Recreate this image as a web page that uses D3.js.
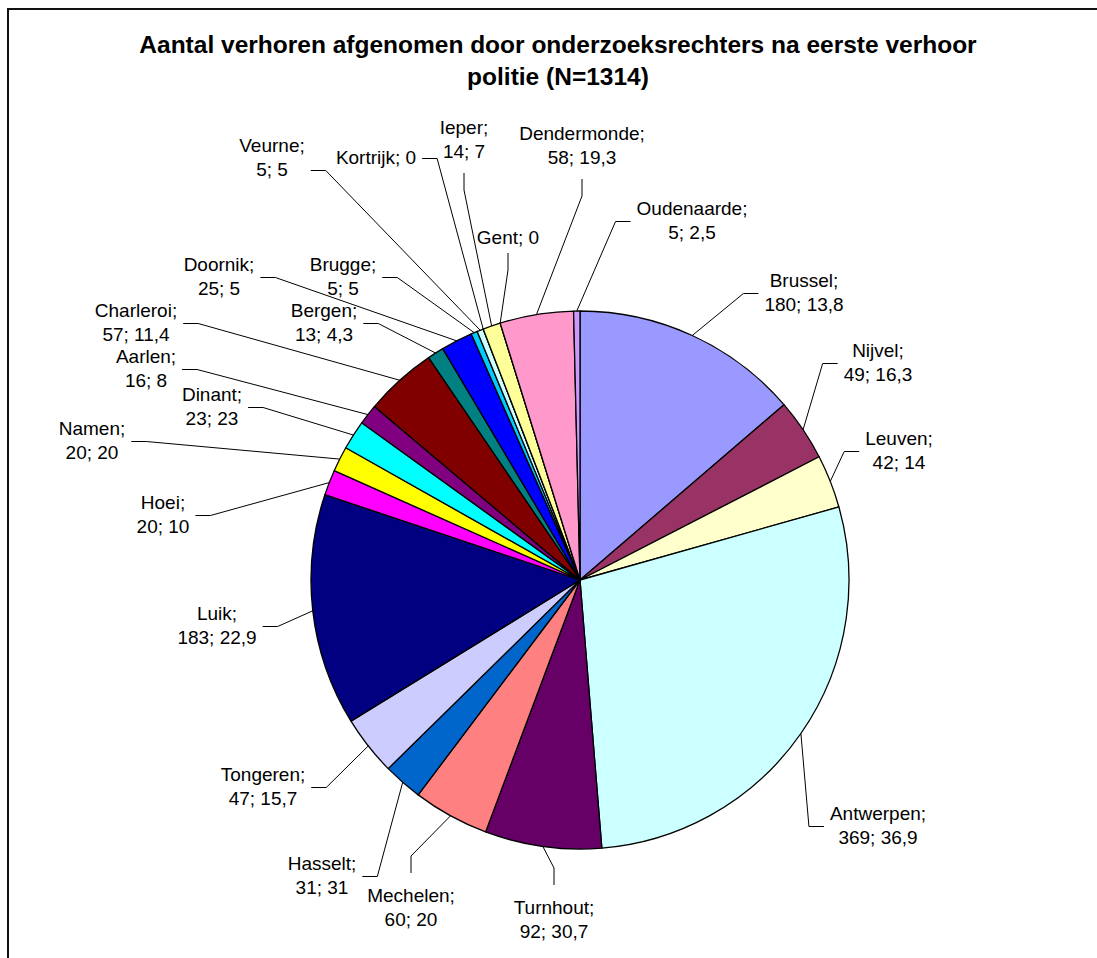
<!DOCTYPE html>
<html>
<head>
<meta charset="utf-8">
<script src="https://cdn.jsdelivr.net/npm/d3@7"></script>
<style>
	body { margin: 0; background: #fff; }
	text { font-family: "Liberation Sans", Arial, sans-serif; fill: #000; }
</style>
</head>
<body>
<svg id="chart" width="1097" height="958"></svg>
<script>
// slices in clockwise order starting at 12 o'clock
const districts = ['Brussel', 'Nijvel', 'Leuven', 'Antwerpen', 'Turnhout', 'Mechelen', 'Hasselt', 'Tongeren', 'Luik', 'Hoei', 'Namen', 'Dinant', 'Aarlen', 'Charleroi', 'Bergen', 'Doornik', 'Brugge', 'Veurne', 'Kortrijk', 'Ieper', 'Gent', 'Dendermonde', 'Oudenaarde'];
const counts = [180, 49, 42, 369, 92, 60, 31, 47, 183, 20, 20, 23, 16, 57, 13, 25, 5, 5, 0, 14, 0, 58, 5];
const ratios = [13.8, 16.3, 14, 36.9, 30.7, 20, 31, 15.7, 22.9, 10, 20, 23, 8, 11.4, 4.3, 5, 5, 5, null, 7, null, 19.3, 2.5];
const colors = ['#9999FF', '#993366', '#FFFFCC', '#CCFFFF', '#660066', '#FF8080', '#0066CC', '#CCCCFF', '#000080', '#FF00FF', '#FFFF00', '#00FFFF', '#800080', '#800000', '#008080', '#0000FF', '#00CCFF', '#CCFFFF', '#CCFFCC', '#FFFF99', '#99CCFF', '#FF99CC', '#CC99FF'];
const titleLines = ['Aantal verhoren afgenomen door onderzoeksrechters na eerste verhoor', 'politie (N=1314)'];

// label placement (offset of label centre from pie centre, side where the leader leaves)
const labelSpots = [
	[224, -288, 'l'], [298, -218, 'l'], [319, -130, 'l'], [298, 245, 'l'],
	[-26, 339, 't'], [-169, 327, 't'], [-258, 295, 'r'], [-317, 206, 'r'],
	[-363, 45, 'r'], [-417, -66, 'r'], [-488, -140, 'r'], [-368, -174, 'r'],
	[-434, -212, 'r'], [-444, -258, 'r'], [-256, -258, 'r'], [-361, -304, 'r'],
	[-237, -304, 'r'], [-308, -423, 'r', 12], [-204, -423, 'r'], [-116, -441, 'b'],
	[-72, -343, 'b'], [2, -435, 'b'], [112, -360, 'l']
];

let cx = 580, cy = 580, radius = 269;
let svg = d3.select('#chart');

// chart frame (runs off the right and bottom edge)
svg.append('rect').attr('x', 8).attr('y', 9).attr('width', 1200).attr('height', 1200)
	.style('fill', 'none').style('stroke', '#111').style('stroke-width', 2);

svg.selectAll('text.title').data(titleLines).join('text')
	.attr('class', 'title')
	.attr('x', 558)
	.attr('y', (d, i) => 53 + i * 32)
	.attr('text-anchor', 'middle')
	.style('font-size', '24.5px')
	.style('font-weight', 'bold')
	.text(d => d);

let slices = districts.map((name, i) => ({name: name, count: counts[i], ratio: ratios[i], color: colors[i], spot: labelSpots[i]}));
let pie = d3.pie().sort(null).value(d => d.count);
let arcs = pie(slices);
let arcFn = d3.arc().innerRadius(0).outerRadius(radius);
let edgeFn = d3.arc().innerRadius(radius).outerRadius(radius);

let g = svg.append('g').attr('transform', 'translate(' + cx + ',' + cy + ')');
g.selectAll('path.slice').data(arcs).join('path')
	.attr('class', 'slice')
	.attr('d', arcFn)
	.style('fill', d => d.data.color)
	.style('stroke', '#000')
	.style('stroke-width', 1.3)
	.style('stroke-linejoin', 'round');

// labels
let fmt = v => String(v).replace('.', ',');
let labels = g.selectAll('g.label').data(arcs).join('g').attr('class', 'label');
labels.each(function(d) {
	let lg = d3.select(this);
	let [lx, ly] = d.data.spot;
	let lines = d.data.ratio === null ? [d.data.name + '; ' + d.data.count] : [d.data.name + ';', d.data.count + '; ' + fmt(d.data.ratio)];
	lg.selectAll('text').data(lines).join('text')
		.attr('x', lx)
		.attr('y', (t, i) => lines.length == 1 ? ly + 7 : ly - 5 + i * 24)
		.attr('text-anchor', 'middle')
		.style('font-size', '19px')
		.text(t => t);
});

// leader lines: short straight piece next to the label, then to the slice edge
labels.each(function(d) {
	let lg = d3.select(this);
	let [lx, ly, side, shift] = d.data.spot;
	let w = 0;
	lg.selectAll('text').each(function() { w = Math.max(w, this.getComputedTextLength()); });
	let half = d.data.ratio === null ? 16 : 34;
	let start, elbow;
	if (side == 'l') { start = [lx - w / 2 - 6, ly + 1.5]; elbow = [start[0] - 15, start[1]]; }
	else if (side == 'r') { start = [lx + w / 2 + 6, ly + 1.5 + (shift || 0)]; elbow = [start[0] + 15, start[1]]; }
	else if (side == 'b') { start = [lx, ly + half]; elbow = [lx, start[1] + 17]; }
	else { start = [lx, ly - half]; elbow = [lx, start[1] - 17]; }
	lg.append('path')
		.attr('d', d3.line()([start, elbow, edgeFn.centroid(d)]))
		.style('fill', 'none')
		.style('stroke', '#000')
		.style('stroke-width', 1);
});
</script>
</body>
</html>
